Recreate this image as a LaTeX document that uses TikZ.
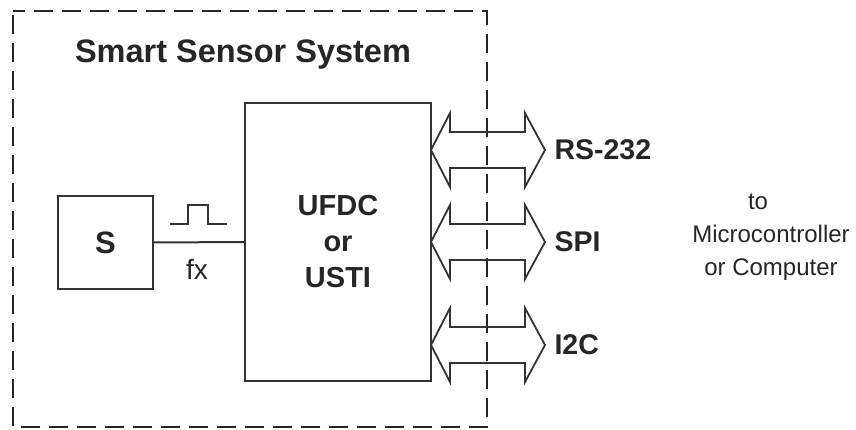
\documentclass[tikz,border=0pt]{standalone}
\usepackage{fontspec}
\setmainfont{Liberation Sans}
\begin{document}
\begin{tikzpicture}[x=1pt,y=-1pt,
  solidbox/.style={draw=black!80, line width=2pt, inner sep=0pt},
  lbl/.style={font=\fontsize{28.5}{30}\selectfont\bfseries, text=black!85},
  reg/.style={font=\fontsize{24}{33}\selectfont, text=black!85},
  bus/.style={draw=black!80, line width=1.8pt, line join=miter}]
\useasboundingbox (0,0) rectangle (856,430);
% system boundary
\draw[black!85, line width=2.5pt, dash pattern=on 19pt off 9pt, dash phase=-4pt] (13,11) rectangle (487,427);
\node[font=\fontsize{32.5}{36}\selectfont\bfseries, text=black!85] (title) at (243,55) {Smart Sensor System};
% sensor
\node[solidbox, minimum width=95pt, minimum height=93pt, lbl,
      font=\fontsize{31}{36}\selectfont\bfseries] (S) at (105.5,242.5) {S};
% converter
\node[solidbox, minimum width=186pt, minimum height=278pt, align=center, lbl,
      font=\fontsize{29}{36}\selectfont\bfseries] (U) at (338,242) {UFDC\\or\\USTI};
\draw[black!80, line width=2pt] (S.east) -- (U.west);
% pulse
\coordinate (p0) at (170,224);
\draw[black!80, line width=2pt] (p0) -- ++(18,0) -- ++(0,-19) -- ++(20,0) -- ++(0,19) -- ++(19,0);
\node[reg, font=\fontsize{28}{33}\selectfont] (fx) at (197,269) {fx};
% buses
\foreach \c/\n/\t in {150/rs/RS-232, 242/spi/SPI, 345/iic/I2C}{
  \coordinate (\n tip) at (431,\c);
  \draw[bus] (\n tip) -- ++(19,-37) -- ++(0,19) -- ++(75,0) -- ++(0,-19) -- ++(20,37)
     -- ++(-20,37) -- ++(0,-19) -- ++(-75,0) -- ++(0,19) -- cycle;
  \node[lbl, anchor=west] (\n) at (551,\c) {\t};
}
\node[reg, align=center] (mc) at (771,237) {to\hspace*{26pt}\\Microcontroller\\or Computer};
\end{tikzpicture}
\end{document}
